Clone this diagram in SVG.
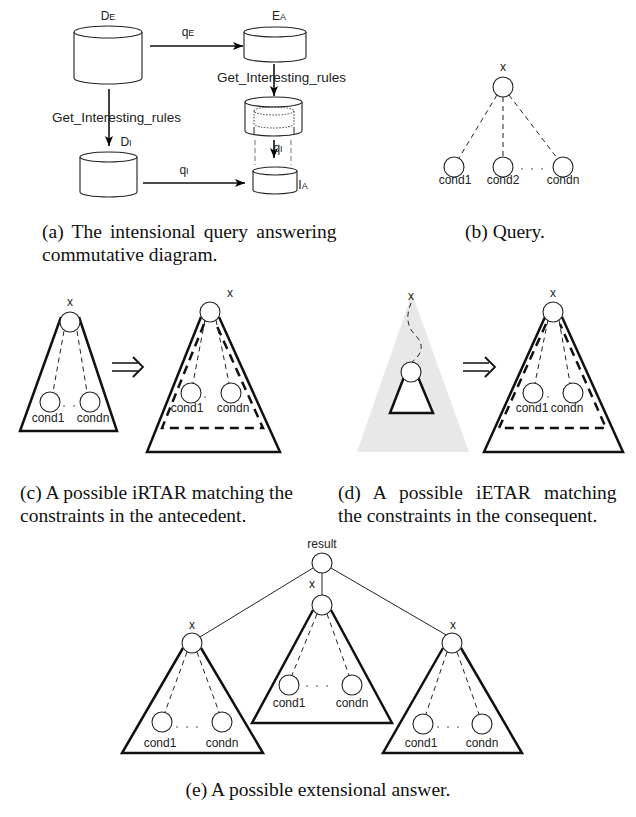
<svg xmlns="http://www.w3.org/2000/svg" width="636" height="817" viewBox="0 0 636 817">
<defs>
<marker id="ah" viewBox="0 0 10 10" refX="10" refY="5" markerWidth="10" markerHeight="10" markerUnits="userSpaceOnUse" orient="auto"><path d="M0,1 L10,5 L0,9 L2.5,5 Z" fill="#000"/></marker>
</defs>
<style>
.lbl{font-family:"Liberation Sans",Arial,sans-serif;font-size:12px;fill:#222;text-anchor:middle}
.big{font-family:"Liberation Sans",Arial,sans-serif;font-size:13.5px;fill:#222;text-anchor:middle}
.cap{font-family:"Liberation Serif","Times New Roman",serif;font-size:19.5px;fill:#111}
.cyl{fill:#fff;stroke:#222;stroke-width:1.1}
.nd{fill:#fff;stroke:#222;stroke-width:1.1}
.tri{fill:#fff;stroke:#111;stroke-width:2.5;stroke-linejoin:miter}
.dl{fill:none;stroke:#222;stroke-width:1;stroke-dasharray:5 4}
.tdl{fill:none;stroke:#111;stroke-width:2.5;stroke-dasharray:9 6}
.dots{fill:none;stroke:#222;stroke-width:1.5;stroke-linecap:round;stroke-dasharray:0 10}
.ln{fill:none;stroke:#222;stroke-width:1}
.arr{fill:none;stroke:#111;stroke-width:1.6;marker-end:url(#ah)}
</style>

<!-- (a) commutative diagram -->
<g id="DE">
<path class="cyl" d="M74,32 L74,78 A34,6 0 0 0 142,78 L142,32"/>
<ellipse class="cyl" cx="108" cy="32" rx="34" ry="6"/>
<text class="lbl" x="108" y="20" font-size="13">D<tspan font-size="9">E</tspan></text>
</g>
<g id="DI">
<path class="cyl" d="M80,157 L80,192 A28.5,5 0 0 0 137,192 L137,157"/>
<ellipse class="cyl" cx="108.5" cy="157" rx="28.5" ry="5"/>
<text class="lbl" x="126" y="146" font-size="13">D<tspan font-size="9">I</tspan></text>
</g>
<g id="EA">
<path class="cyl" d="M244,32 L244,57 A31,5 0 0 0 306,57 L306,32"/>
<ellipse class="cyl" cx="275" cy="32" rx="31" ry="5"/>
<text class="lbl" x="279" y="20" font-size="13">E<tspan font-size="9">A</tspan></text>
</g>
<g id="RULES">
<path class="cyl" d="M245,102 L245,131 A28.5,5 0 0 0 302,131 L302,102"/>
<ellipse class="cyl" cx="273.5" cy="102" rx="28.5" ry="5"/>
<path d="M254,111 L254,124 A20,4 0 0 0 294,124 L294,111" fill="none" stroke="#222" stroke-width="0.9" stroke-dasharray="1.5 1.5"/>
<ellipse cx="274" cy="111" rx="20" ry="4" fill="none" stroke="#222" stroke-width="0.9" stroke-dasharray="1.5 1.5"/>
<path class="ln" d="M254,127 L254,135 M294,127 L294,135"/>
</g>
<g id="IA">
<path class="cyl" d="M253,171 L253,190 A22,4 0 0 0 297,190 L297,171"/>
<ellipse class="cyl" cx="275" cy="171" rx="22" ry="4"/>
<text class="lbl" x="303" y="189" font-size="13" text-anchor="start">I<tspan font-size="9">A</tspan></text>
</g>
<g id="connectors-a">
<path class="arr" d="M109,89 L109,146"/>
<text class="big" x="116.5" y="122">Get_Interesting_rules</text>
<path class="arr" d="M150,46 L243,46"/>
<text class="lbl" x="188" y="36" font-size="13">q<tspan font-size="9">E</tspan></text>
<path class="arr" d="M274,64 L274,96"/>
<text class="big" x="281.5" y="82">Get_Interesting_rules</text>
<path class="arr" d="M143,183 L245,183"/>
<text class="lbl" x="184" y="174" font-size="13">q<tspan font-size="9">I</tspan></text>
<path d="M255,140 L255,165 M291,140 L291,165" fill="none" stroke="#888" stroke-width="1.2" stroke-dasharray="5 3"/>
<path class="arr" d="M274,140 L274,158"/>
<text class="lbl" x="278" y="152" font-size="13" text-anchor="start">q<tspan font-size="9">I</tspan></text>
</g>
<text class="cap" x="42" y="238" word-spacing="3.3">(a) The intensional query answering</text>
<text class="cap" x="42" y="261">commutative diagram.</text>

<!-- (b) query -->
<g id="b-connectors">
<path class="dl" d="M497,95 L459,158 M503,97 L503,157 M509,95 L557,158"/>
<path class="dots" d="M522,169 L545,169"/>
</g>
<g id="b-x"><circle class="nd" cx="503" cy="87" r="10"/><text class="lbl" x="503" y="71">x</text></g>
<g id="b-c1"><circle class="nd" cx="454" cy="167" r="10"/><text class="lbl" x="455" y="184">cond1</text></g>
<g id="b-c2"><circle class="nd" cx="503" cy="167" r="10"/><text class="lbl" x="503" y="184">cond2</text></g>
<g id="b-cn"><circle class="nd" cx="563" cy="167" r="10"/><text class="lbl" x="563" y="184">condn</text></g>
<text class="cap" x="505" y="238" text-anchor="middle">(b) Query.</text>

<!-- (c) -->
<g id="c-left">
<path class="tri" d="M61,317 L20,431 L117,431 L79,317"/>
<path class="dl" d="M64,331 L53,392 M77,331 L87,392"/>
<path class="dots" d="M64,406 L76,406"/>
<circle class="nd" cx="70" cy="322" r="10"/>
<circle class="nd" cx="50" cy="402" r="10"/>
<circle class="nd" cx="90" cy="402" r="10"/>
<text class="lbl" x="70" y="306">x</text>
<text class="lbl" x="48" y="422">cond1</text>
<text class="lbl" x="93" y="422">condn</text>
</g>
<g id="c-imp">
<path d="M112,363 L138,363 M112,371 L138,371" stroke="#111" stroke-width="1.6" fill="none"/>
<path d="M133,357 L143,367 L133,377" stroke="#111" stroke-width="1.8" fill="none"/>
</g>
<g id="c-right">
<path class="tri" d="M201,317 L147,452 L280,452 L219,317"/>
<path class="tdl" d="M204,324 L162,428 L263,428 L216,324"/>
<path class="dl" d="M205,320 L193,383 M216,320 L229,383"/>
<path class="dots" d="M205,397 L215,397"/>
<circle class="nd" cx="210" cy="312" r="10"/>
<circle class="nd" cx="191" cy="393" r="10"/>
<circle class="nd" cx="231" cy="393" r="10"/>
<text class="lbl" x="230" y="297">x</text>
<text class="lbl" x="187" y="412">cond1</text>
<text class="lbl" x="233" y="412">condn</text>
</g>
<text class="cap" x="20" y="499">(c) A possible iRTAR matching the</text>
<text class="cap" x="20" y="522">constraints in the antecedent.</text>

<!-- (d) -->
<g id="d-left">
<path d="M412,294 L357,452 L469,452 Z" fill="#e8e8e8"/>
<path class="dl" d="M411,303 C405,318 408,328 416,336 C426,346 420,356 412,362"/>
<path class="tri" d="M404,377 L390,413 L433,413 L418,377"/>
<circle class="nd" cx="411" cy="372" r="10"/>
<text class="lbl" x="411" y="300">x</text>
</g>
<g id="d-imp">
<path d="M463,363 L489,363 M463,371 L489,371" stroke="#111" stroke-width="1.6" fill="none"/>
<path d="M485,357 L495,367 L485,377" stroke="#111" stroke-width="1.8" fill="none"/>
</g>
<g id="d-right">
<path class="tri" d="M545,317 L484,452 L623,452 L562,317"/>
<path class="tdl" d="M546,324 L499,428 L606,428 L560,324"/>
<path class="dl" d="M548,320 L535,383 M559,320 L570,383"/>
<path class="dots" d="M548,397 L558,397"/>
<circle class="nd" cx="553" cy="312" r="10"/>
<circle class="nd" cx="533" cy="393" r="10"/>
<circle class="nd" cx="573" cy="393" r="10"/>
<text class="lbl" x="553" y="297">x</text>
<text class="lbl" x="532" y="412">cond1</text>
<text class="lbl" x="567" y="412">condn</text>
</g>
<text class="cap" x="338" y="499" word-spacing="8.3">(d) A possible iETAR matching</text>
<text class="cap" x="338" y="522">the constraints in the consequent.</text>

<!-- (e) -->
<g id="e-connectors">
<path class="ln" d="M322,573 L322,595 M313,568 L200,637 M331,568 L448,636"/>
</g>
<g id="e-result"><circle class="nd" cx="322" cy="563" r="10"/><text class="lbl" x="322" y="548">result</text></g>
<g id="e-left">
<path class="tri" d="M183,648 L122,753 L263,753 L201,648"/>
<path class="dl" d="M187,652 L165,712 M197,652 L219,712"/>
<path class="dots" d="M177,727 L207,727"/>
<circle class="nd" cx="192" cy="643" r="10"/>
<circle class="nd" cx="162" cy="722" r="10"/>
<circle class="nd" cx="222" cy="722" r="10"/>
<text class="lbl" x="192" y="629">x</text>
<text class="lbl" x="160" y="747">cond1</text>
<text class="lbl" x="222" y="747">condn</text>
</g>
<g id="e-mid">
<path class="tri" d="M313,610 L252,723 L392,723 L331,610"/>
<path class="dl" d="M317,614 L292,675 M327,614 L349,675"/>
<path class="dots" d="M307,686 L337,686"/>
<circle class="nd" cx="322" cy="605" r="10"/>
<circle class="nd" cx="289" cy="685" r="10"/>
<circle class="nd" cx="352" cy="685" r="10"/>
<text class="lbl" x="312" y="588">x</text>
<text class="lbl" x="289" y="707">cond1</text>
<text class="lbl" x="352" y="707">condn</text>
</g>
<g id="e-right">
<path class="tri" d="M443,648 L383,753 L522,753 L461,648"/>
<path class="dl" d="M447,652 L426,714 M457,652 L479,714"/>
<path class="dots" d="M438,727 L468,727"/>
<circle class="nd" cx="452" cy="643" r="10"/>
<circle class="nd" cx="423" cy="724" r="10"/>
<circle class="nd" cx="482" cy="724" r="10"/>
<text class="lbl" x="453" y="629">x</text>
<text class="lbl" x="421" y="747">cond1</text>
<text class="lbl" x="482" y="747">condn</text>
</g>
<text class="cap" x="318" y="796" text-anchor="middle">(e) A possible extensional answer.</text>
</svg>
